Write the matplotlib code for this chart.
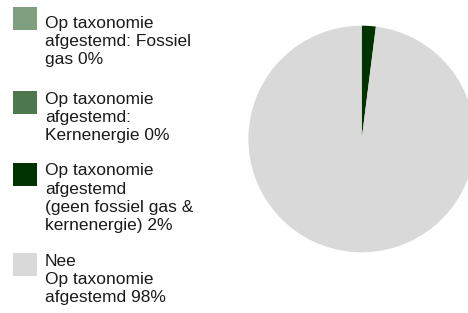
#!/usr/bin/env python3
# -*- coding: utf-8 -*-
"""Taxonomy alignment pie with a hand-placed legend on the left."""

import matplotlib

matplotlib.use("Agg")
import matplotlib.pyplot as plt
from matplotlib.patches import Rectangle

labels = [
    "Op taxonomie\nafgestemd: Fossiel\ngas 0%",
    "Op taxonomie\nafgestemd:\nKernenergie 0%",
    "Op taxonomie\nafgestemd\n(geen fossiel gas &\nkernenergie) 2%",
    "Nee\nOp taxonomie\nafgestemd 98%",
]
shares = [0, 0, 2, 98]
colors = ["#7fa07f", "#4d774d", "#003300", "#d9d9d9"]

W, H, DPI = 468, 313, 100
plt.rcParams["font.family"] = ["Liberation Sans", "DejaVu Sans"]

fig = plt.figure(figsize=(W / DPI, H / DPI), dpi=DPI)

# pie: centre and radius in pixels (top-left origin)
cx, cy, r = 361.7, 139.0, 113.3
ax = fig.add_axes([(cx - r) / W, (H - cy - r) / H, 2 * r / W, 2 * r / H])
ax.pie(shares, colors=colors, startangle=90, counterclock=False, radius=1.0)
ax.set_xlim(-1, 1)
ax.set_ylim(-1, 1)
ax.set_aspect("equal")
ax.axis("off")

# legend entries: square top and text top in pixels
sq_tops = [7, 91, 163, 253]
txt_tops = [16.0, 92.0, 163.5, 254.0]
for lab, col, st, tt in zip(labels, colors, sq_tops, txt_tops):
    fig.patches.append(
        Rectangle((13 / W, (H - st - 23) / H), 24 / W, 23 / H,
                  transform=fig.transFigure, facecolor=col, edgecolor="none")
    )
    fig.text(45 / W, (H - tt) / H, lab, ha="left", va="top",
             fontsize=12.5, color="#1a1a1a", linespacing=1.26)

fig.savefig("out.png", dpi=DPI)
